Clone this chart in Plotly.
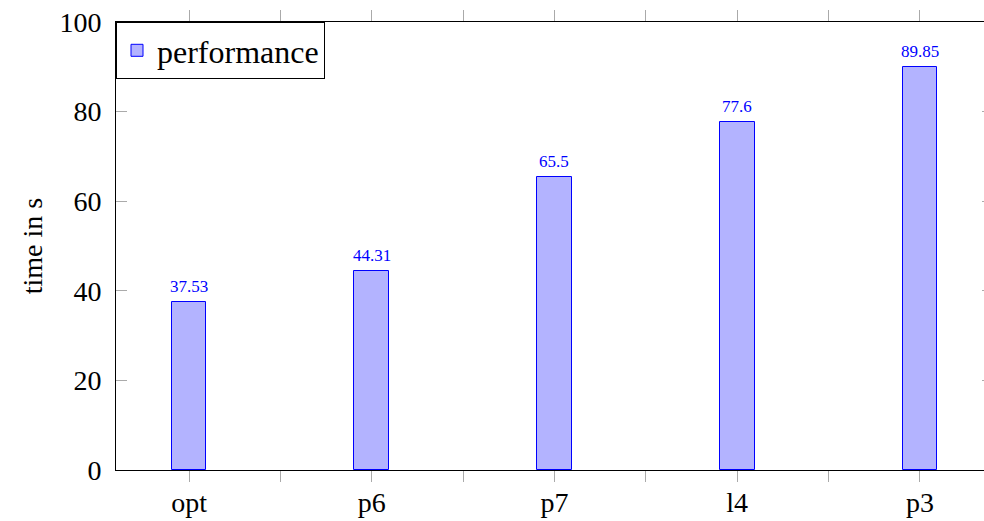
import plotly.graph_objects as go

categories = ["opt", "p6", "p7", "l4", "p3"]
values = [37.53, 44.31, 65.5, 77.6, 89.85]
value_labels = ["37.53", "44.31", "65.5", "77.6", "89.85"]
y_ticks = [0, 20, 40, 60, 80, 100]

positions = list(range(len(categories)))
FONT = "Liberation Serif"
FS = 28

fig = go.Figure()
fig.add_trace(go.Bar(
    x=positions, y=values, name="performance", width=0.19,
    marker=dict(color="rgb(179,179,255)", line=dict(color="blue", width=1)),
    showlegend=True,
))
# invisible trace to anchor the right-side y axis
fig.add_trace(go.Scatter(x=[positions[0]], y=[0], yaxis="y2", mode="markers",
                         marker=dict(opacity=0), showlegend=False, hoverinfo="skip"))

for p, v, t in zip(positions, values, value_labels):
    fig.add_annotation(x=p, y=v, text=t, showarrow=False, yshift=15.5,
                       font=dict(family=FONT, size=17, color="blue"))

span = 868 / 182.7
fig.update_layout(
    width=984, height=521,
    margin=dict(l=116, r=0, t=22, b=51, autoexpand=False),
    paper_bgcolor="white", plot_bgcolor="white",
    font=dict(family=FONT, size=FS, color="black"),
    bargap=0,
    xaxis=dict(
        range=[-0.4, -0.4 + span], tickvals=positions, ticktext=categories,
        ticks="outside", ticklen=11, tickcolor="#aaaaaa", tickwidth=1,
        minor=dict(tick0=0.5, dtick=1, ticks="outside", ticklen=11, tickcolor="#aaaaaa", tickwidth=1),
        showline=True, linecolor="black", linewidth=1, mirror="allticks",
        showgrid=False, zeroline=False, tickfont=dict(size=FS, family=FONT),
        automargin=False, ticklabelstandoff=-4,
    ),
    yaxis=dict(
        range=[0, 100], tickvals=y_ticks, ticks="inside", ticklen=11,
        tickcolor="#aaaaaa", tickwidth=1, showline=True, linecolor="black", linewidth=1,
        showgrid=False, zeroline=False, tickfont=dict(size=FS, family=FONT),
        title=dict(text="time in s", font=dict(size=FS, family=FONT), standoff=8),
        automargin=False, ticklabelstandoff=8,
    ),
    yaxis2=dict(
        range=[0, 100], tickvals=y_ticks, overlaying="y", side="right", ticks="inside",
        ticklen=2, tickcolor="#aaaaaa", showticklabels=False, showline=False,
        showgrid=False, zeroline=False, automargin=False,
    ),
    legend=dict(x=0, y=1, xanchor="left", yanchor="top", bordercolor="black", borderwidth=1,
                bgcolor="white", font=dict(size=32, family=FONT), itemwidth=30,
                tracegroupgap=0),
)

fig.write_html(
    "out.html",
    config={"displayModeBar": False},
    post_script="document.body.style.margin='0';document.body.style.overflow='hidden';",
)
